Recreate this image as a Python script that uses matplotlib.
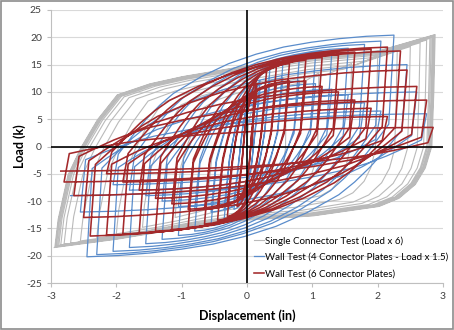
import numpy as np
import matplotlib.pyplot as plt
from matplotlib.patches import Rectangle

plt.rcParams['font.family'] = ['Lato', 'DejaVu Sans']
plt.rcParams['axes.unicode_minus'] = False

# ------------------------------ #
#   Cycle peaks   #
# ------------------------------ #
# single connector test (load x 6)
gray_dpos = [0.6, 1.1, 1.6, 2.0, 2.3, 2.5, 2.65, 2.75, 2.8, 2.82, 2.84, 2.85, 2.86, 2.87, 2.88]
gray_ppos = [11, 13.5, 15.2, 16.5, 17.5, 18.3, 19, 19.5, 19.8, 20, 20.1, 20.2, 20.3, 20.4, 20.5]
gray_dneg = [-0.6, -1.1, -1.6, -2.0, -2.3, -2.55, -2.7, -2.8, -2.85, -2.88, -2.9, -2.92, -2.93, -2.94, -2.95]
gray_pneg = [-10.5, -13, -14.8, -16, -16.8, -17.3, -17.7, -17.9, -18, -18.1, -18.2, -18.3, -18.3, -18.4, -18.5]

# wall test, 4 connector plates (load x 1.5)
blue_dpos = [0.2, 0.2, 0.35, 0.35, 0.55, 0.55, 0.8, 0.8, 1.05, 1.05, 1.3, 1.3,
             1.55, 1.55, 1.8, 1.8, 2.05, 2.05, 2.25, 2.45, 2.6, 2.75]
blue_ppos = [12, 10.5, 14, 12, 15.2, 12.5, 16, 12, 16.8, 11.5, 17.5, 10.5,
             18, 9.5, 18.7, 8, 19.3, 6.5, 20.4, 15, 10, 6]
blue_dneg = [-0.2, -0.2, -0.35, -0.35, -0.55, -0.55, -0.8, -0.8, -1.05, -1.05, -1.3, -1.3,
             -1.55, -1.55, -1.8, -1.8, -2.05, -2.05, -2.3, -2.45, -2.55, -2.7]
blue_pneg = [-11.5, -10, -13.5, -11.5, -14.5, -12, -15.5, -11.5, -16.3, -11, -17, -10,
             -17.8, -9, -18.5, -8, -19.2, -7, -19.8, -20.2, -12, -9]

# wall test, 6 connector plates
red_dpos = [0.15, 0.15, 0.3, 0.3, 0.45, 0.45, 0.65, 0.65, 0.9, 0.9, 1.15, 1.15, 1.4, 1.4,
            1.65, 1.65, 1.9, 1.9, 2.15, 2.15, 2.35, 2.45, 2.6, 2.75, 2.85]
red_ppos = [11.5, 10, 13.8, 11, 14.6, 11.5, 15.2, 12, 15.8, 12, 16.3, 11, 16.8, 10,
            17.3, 8.5, 17.8, 7, 18.2, 5.5, 17.5, 14, 11, 8.5, 3.5]
red_dneg = [-0.15, -0.15, -0.3, -0.3, -0.45, -0.45, -0.65, -0.65, -0.9, -0.9, -1.15, -1.15, -1.4, -1.4,
            -1.65, -1.65, -1.9, -1.9, -2.15, -2.15, -2.4, -2.5, -2.65, -2.8, -2.85]
red_pneg = [-11, -9.5, -12.8, -10.5, -13.5, -11, -14.2, -11.5, -14.8, -11.5, -15.2, -10.5, -15.5, -9.5,
            -15.8, -8, -16, -6.5, -16.2, -5, -16.4, -13, -9, -6.5, -4.5]

# branch shapes (fraction of travel vs fraction of load change)
pinch_t = [0, .05, .1, .15, .2, .3, .4, .5, .6, .7, .8, .9, 1]
pinch_g = [0, .15, .29, .41, .51, .65, .76, .84, .9, .94, .97, .99, 1]
gray_up_t = [0, .0086, .0345, .069, .112, .164, .25, .336, .509, .681, .853, 1]
gray_up_g = [0, .13, .339, .469, .599, .716, .768, .802, .854, .898, .924, 1]
gray_dn_t = [0, .0034, .0086, .026, .052, .095, .147, .319, .491, .664, .836, 1]
gray_dn_g = [0, .267, .524, .627, .704, .769, .807, .851, .871, .910, .961, 1]


def branch(x0, y0, x1, y1, t, g, dx, keep):
    s = np.sign(x1 - x0)
    xa, ya = x0 + s * dx, y0 * keep
    xs = xa + (x1 - xa) * np.asarray(t)
    ys = ya + (y1 - ya) * np.asarray(g)
    return np.r_[x0, xs], np.r_[y0, ys]


def hysteresis(dpos, ppos, dneg, pneg, up, dn, dx, keep):
    xs, ys = [0.0], [0.0]
    for a, pa, b, pb in zip(dpos, ppos, dneg, pneg):
        for xe, ye, shape in ((a, pa, up), (b, pb, dn)):
            bx, by = branch(xs[-1], ys[-1], xe, ye, shape[0], shape[1], dx, keep)
            xs.extend(bx[1:])
            ys.extend(by[1:])
    return xs, ys


fig = plt.figure(figsize=(4.54, 3.30), dpi=100)
ax = fig.add_axes([0.1123, 0.1424, 0.8634, 0.8273])

gx, gy = hysteresis(gray_dpos, gray_ppos, gray_dneg, gray_pneg,
                    (gray_up_t, gray_up_g), (gray_dn_t, gray_dn_g), 0.0, 1.0)
bx, by = hysteresis(blue_dpos, blue_ppos, blue_dneg, blue_pneg,
                    (pinch_t, pinch_g), (pinch_t, pinch_g), 0.08, 0.2)
rx, ry = hysteresis(red_dpos, red_ppos, red_dneg, red_pneg,
                    (pinch_t, pinch_g), (pinch_t, pinch_g), 0.08, 0.2)

ax.plot(gx, gy, color='#bababa', lw=0.8, label='Single Connector Test (Load x 6)', zorder=3)
ax.plot(bx, by, color='#5a8ccb', lw=0.9, label='Wall Test (4 Connector Plates - Load x 1.5)', zorder=4)
ax.plot(rx, ry, color='#a3292b', lw=1.15, label='Wall Test (6 Connector Plates)', zorder=5)

ax.axhline(0, color='black', lw=1.2, zorder=6)
ax.axvline(0, color='black', lw=1.2, zorder=6)

ax.set_xlim(-3, 3)
ax.set_ylim(-25, 25)
ax.set_xticks(np.arange(-3, 4, 1))
ax.set_yticks(np.arange(-25, 30, 5))
ax.yaxis.grid(True, color='#d9d9d9', lw=0.8, zorder=0)
ax.set_axisbelow(True)
for side in ['top', 'right']:
    ax.spines[side].set_visible(False)
for side in ['left', 'bottom']:
    ax.spines[side].set_color('#bfbfbf')
ax.tick_params(axis='both', colors='#bfbfbf', labelcolor='#404040', labelsize=7.5, length=3, width=0.8)
ax.set_xlabel('Displacement (in)', fontsize=9, fontweight='bold', labelpad=6)
ax.set_ylabel('Load (k)', fontsize=9, fontweight='bold', labelpad=0)

ax.legend(loc='upper left', bbox_to_anchor=(0.505, 0.19), frameon=False, fontsize=7,
          handlelength=1.1, handletextpad=0.1, labelspacing=0.75, borderpad=0)

fig.patches.append(Rectangle((0.002, 0.003), 0.996, 0.994, transform=fig.transFigure,
                             fill=False, edgecolor='#8c8c8c', lw=1.2))

fig.savefig('out.png', dpi=100)
